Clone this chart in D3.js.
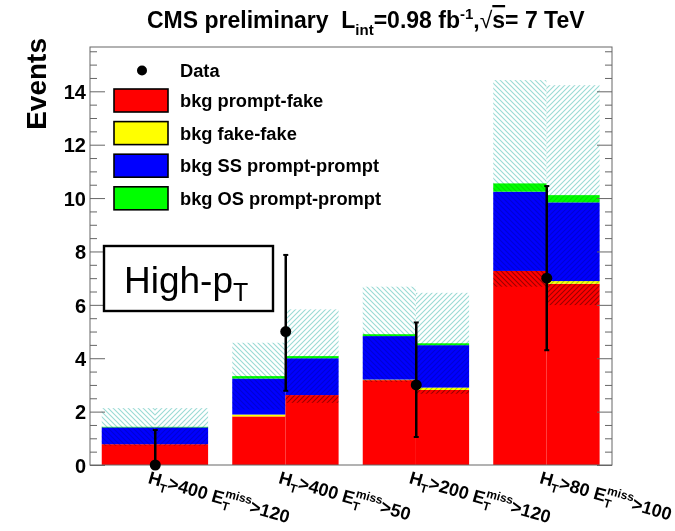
<!DOCTYPE html>
<html><head><meta charset="utf-8">
<script src="https://cdn.jsdelivr.net/npm/d3@7"></script>
<style>body{margin:0;background:#fff}svg{display:block;font-family:"Liberation Sans",Arial,sans-serif}</style>
</head><body><svg id="c" width="675" height="531"></svg>
<script>
// ---- data ----
const categories = ["HT400_MET120", "HT400_MET50", "HT200_MET120", "HT80_MET100"];
const htCuts = ["400", "400", "200", "80"];
const metCuts = ["120", "50", "120", "100"];
const halves = ["a", "b"];
// left half (a) and right half (b) of each bin
const promptFakeA = [0.78, 1.82, 3.18, 7.27];
const promptFakeB = [0.78, 2.62, 2.81, 6.79];
const fakeFakeA   = [0.00, 0.07, 0.02, 0.00];
const fakeFakeB   = [0.00, 0.00, 0.09, 0.10];
const ssPromptA   = [0.63, 1.35, 1.63, 2.97];
const ssPromptB   = [0.63, 1.38, 1.59, 2.95];
const osPromptA   = [0.02, 0.09, 0.07, 0.31];
const osPromptB   = [0.02, 0.08, 0.07, 0.27];
const bkgErrA     = [0.70, 1.25, 1.78, 3.87];
const bkgErrB     = [0.70, 1.75, 1.89, 4.12];
const dataValues  = [0, 5, 3, 7];
const dataErrLow  = [0, 2.22, 1.95, 2.70];
const dataErrHigh = [1.31, 2.87, 2.34, 3.45];
const yTicks = [0, 2, 4, 6, 8, 10, 12, 14];
const yMax = 15.66;
const seriesNames = ["bkg prompt-fake", "bkg fake-fake", "bkg SS prompt-prompt", "bkg OS prompt-prompt"];
const seriesColors = ["#ff0000", "#ffff00", "#0000ff", "#00ff00"];

// ---- layout ----
const L = 90, R = 612, T = 47, B = 465;
const svg = d3.select("#c");
const x = d3.scaleBand().domain(categories).range([L, R]).padding(0);
const bw = x.bandwidth();
const xh = d3.scaleBand().domain(halves).range([0.09 * bw, 0.905 * bw]).padding(0);
const y = d3.scaleLinear().domain([0, yMax]).range([B, T]);

// hatch patterns
const defs = svg.append("defs");
function hatch(id, dir) {
  const p = defs.append("pattern").attr("id", id).attr("patternUnits", "userSpaceOnUse")
    .attr("width", 5).attr("height", 5);
  const d = dir === "back" ? "M-1,-1 L6,6 M-1,4 L1,6 M4,-1 L6,1" : "M-1,6 L6,-1 M-1,1 L1,-1 M4,6 L6,4";
  p.append("path").attr("d", d).attr("stroke", "#9adad4").attr("stroke-width", 1.1).attr("fill", "none");
}
hatch("hA", "back");
hatch("hB", "fwd");

// build stacked rows
const rows = [];
categories.forEach((c, i) => {
  [["a", [promptFakeA, fakeFakeA, ssPromptA, osPromptA], bkgErrA],
   ["b", [promptFakeB, fakeFakeB, ssPromptB, osPromptB], bkgErrB]].forEach(([h, arrs, err]) => {
    let cum = 0;
    const segs = arrs.map((a, k) => { const s = {y0: cum, y1: cum + a[i], k}; cum += a[i]; return s; });
    rows.push({c, h, segs, total: cum, err: err[i]});
  });
});

const gBars = svg.append("g");
rows.forEach(r => {
  const x0 = x(r.c) + xh(r.h);
  gBars.selectAll(null).data(r.segs.filter(s => s.y1 > s.y0)).enter().append("rect")
    .attr("x", x0).attr("width", xh.bandwidth())
    .attr("y", s => y(s.y1)).attr("height", s => y(s.y0) - y(s.y1))
    .attr("fill", s => seriesColors[s.k]);
});
const gHatch = svg.append("g").style("mix-blend-mode", "multiply");
rows.forEach(r => {
  const x0 = x(r.c) + xh(r.h);
  gHatch.append("rect").attr("x", x0).attr("width", xh.bandwidth())
    .attr("y", y(r.total + r.err)).attr("height", y(Math.max(0, r.total - r.err)) - y(r.total + r.err))
    .attr("fill", r.h === "a" ? "url(#hA)" : "url(#hB)");
});

// frame & axes
const axColor = "#666";
svg.append("rect").attr("x", L).attr("y", T).attr("width", R - L).attr("height", B - T)
  .attr("fill", "none").attr("stroke", axColor).attr("stroke-width", 1);
const minorTicks = d3.range(0, yMax, 0.5).filter(v => v % 2 !== 0);
function yAxes(side) {
  const mk = side === "left" ? d3.axisLeft : d3.axisRight;
  const xpos = side === "left" ? L : R;
  const gMaj = svg.append("g").attr("transform", `translate(${xpos},0)`)
    .call(mk(y).tickValues(yTicks).tickSize(-15).tickPadding(4)
      .tickFormat(side === "left" ? d3.format("d") : () => ""));
  const gMin = svg.append("g").attr("transform", `translate(${xpos},0)`)
    .call(mk(y).tickValues(minorTicks).tickSize(-7).tickFormat(() => ""));
  [gMaj, gMin].forEach(g => {
    g.select(".domain").remove();
    g.selectAll("line").attr("stroke", axColor);
  });
  gMaj.selectAll("text").attr("fill", "#000").attr("font-size", 20).attr("font-weight", "bold")
    .attr("font-family", "Liberation Sans, Arial, sans-serif").attr("dy", "0.36em");
}
yAxes("left");
yAxes("right");

svg.append("text").attr("transform", "translate(46,38) rotate(-90)")
  .attr("text-anchor", "end").attr("font-size", 28).attr("font-weight", "bold").text("Events");

// x labels
categories.forEach((c, i) => {
  const cx = x(c) + bw / 2;
  const t = svg.append("text").attr("transform", `translate(${cx - 8},${483}) rotate(16)`)
    .attr("font-size", 18).attr("font-weight", "bold");
  t.append("tspan").text("H");
  t.append("tspan").attr("font-size", 12).attr("dy", 5).text("T");
  t.append("tspan").attr("dy", -5).text(">" + htCuts[i] + " E");
  t.append("tspan").attr("font-size", 12).attr("dy", 5).text("T");
  t.append("tspan").attr("font-size", 12).attr("dx", -7).attr("dy", -13).text("miss");
  t.append("tspan").attr("dy", 8).text(">" + metCuts[i]);
});

// data points
const gData = svg.append("g");
categories.forEach((c, i) => {
  const cx = x(c) + bw / 2;
  const lo = dataValues[i] - dataErrLow[i], hi = dataValues[i] + dataErrHigh[i];
  gData.append("line").attr("x1", cx).attr("x2", cx).attr("y1", y(lo)).attr("y2", y(hi))
    .attr("stroke", "#000").attr("stroke-width", 2.5);
  [lo, hi].forEach(v => {
    if (v > 0) gData.append("line").attr("x1", cx - 2.5).attr("x2", cx + 2.5).attr("y1", y(v)).attr("y2", y(v))
      .attr("stroke", "#000").attr("stroke-width", 2);
  });
  gData.append("circle").attr("cx", cx).attr("cy", y(dataValues[i])).attr("r", 5.5).attr("fill", "#000");
});

// legend
const lg = svg.append("g");
lg.append("circle").attr("cx", 142).attr("cy", 70.5).attr("r", 5).attr("fill", "#000");
lg.append("text").attr("x", 180).attr("y", 77).attr("font-size", 18.3).attr("font-weight", "bold").text("Data");
seriesNames.forEach((n, k) => {
  const yy = 89 + k * 32.6;
  lg.append("rect").attr("x", 114).attr("y", yy).attr("width", 54).attr("height", 23)
    .attr("fill", seriesColors[k]).attr("stroke", "#000").attr("stroke-width", 1.6);
  lg.append("text").attr("x", 180).attr("y", yy + 18).attr("font-size", 18.3).attr("font-weight", "bold").text(n);
});

// High-pT box
svg.append("rect").attr("x", 104).attr("y", 246).attr("width", 169).attr("height", 65)
  .attr("fill", "#fff").attr("stroke", "#000").attr("stroke-width", 2.4);
const hp = svg.append("text").attr("x", 124).attr("y", 293).attr("font-size", 37);
hp.append("tspan").text("High-p");
hp.append("tspan").attr("font-size", 25).attr("dy", 8).text("T");

// title
const tt = svg.append("text").attr("x", 147).attr("y", 28).attr("font-size", 23).attr("font-weight", "bold");
tt.append("tspan").text("CMS preliminary\u00a0\u00a0L");
tt.append("tspan").attr("font-size", 15).attr("dy", 7).text("int");
tt.append("tspan").attr("dy", -7).text("=0.98 fb");
tt.append("tspan").attr("font-size", 15).attr("dy", -9).text("-1");
tt.append("tspan").attr("dy", 9).text(",");
tt.append("tspan").attr("font-weight", "normal").text("\u221A");
tt.append("tspan").style("text-decoration", "overline").text("s");
tt.append("tspan").text("= 7 TeV");
</script></body></html>
